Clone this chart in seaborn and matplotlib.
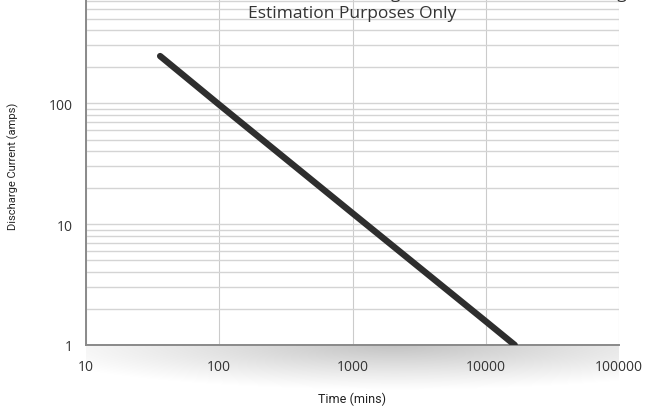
import numpy as np
import matplotlib
matplotlib.use("Agg")
import matplotlib.pyplot as plt
import seaborn as sns
from matplotlib.ticker import FixedLocator, NullFormatter, LogLocator

# ── Data ────────────────────────────────────────────────────
time_mins = [36, 100, 1000, 10000, 16500]
current_amps = [245, 97, 12.3, 1.57, 1.0]

x_ticks = [10, 100, 1000, 10000, 100000]
x_tick_labels = ['10', '100', '1000', '10000', '100000']
y_ticks = [1, 10, 100, 1000]
y_tick_labels = ['1', '10', '100', '1000']

title_top = "This Chart Is Intended to Show Discharge Rates and Times for Sizing"
title_bottom = "Estimation Purposes Only"

# ── Style ───────────────────────────────────────────────────
sns.set_style("white")
plt.rcParams['font.family'] = ['Open Sans', 'DejaVu Sans']
narrow = ['Roboto', 'DejaVu Sans']

W, H = 646, 410
fig = plt.figure(figsize=(W / 100, H / 100), dpi=100)
fig.patch.set_facecolor('white')

# axes geometry in pixels (axis extends above the figure top)
left_px, right_px = 86, 619
bottom_px = 346
top_px = 104 - 120.8  # y = 1000
ax = fig.add_axes([left_px / W, (H - bottom_px) / H,
                   (right_px - left_px) / W, (bottom_px - top_px) / H])

# soft shadow under the x axis
sax = fig.add_axes([left_px / W, (H - 400) / H, (right_px - left_px) / W, 54 / H], zorder=-1)
u = np.linspace(0, 1, 400)[None, :]
v = np.linspace(0, 1, 80)[:, None]
r = np.sqrt(((u - 0.58) / 0.72) ** 2 + (v / 0.85) ** 2)
alpha = np.clip(1 - r, 0, 1) ** 1.1 * 0.24
img = np.zeros((80, 400, 4))
img[..., 3] = alpha
sax.imshow(img, aspect='auto', extent=[0, 1, 0, 1], interpolation='bilinear')
sax.set_axis_off()

# ── Line ────────────────────────────────────────────────────
sns.lineplot(x=time_mins, y=current_amps, ax=ax, color='#2e2e2e',
             linewidth=4.6, solid_capstyle='round', zorder=3)

ax.set_xscale('log')
ax.set_yscale('log')
ax.set_xlim(10, 100000)
ax.set_ylim(1, 1000)

ax.xaxis.set_major_locator(FixedLocator(x_ticks))
ax.set_xticklabels(x_tick_labels)
ax.xaxis.set_minor_locator(FixedLocator([]))
ax.yaxis.set_major_locator(FixedLocator(y_ticks))
ax.set_yticklabels(y_tick_labels)
ax.yaxis.set_minor_locator(LogLocator(base=10, subs=np.arange(2, 10)))
ax.yaxis.set_minor_formatter(NullFormatter())

ax.yaxis.grid(True, which='both', color='#d4d4d4', linewidth=1.0)
ax.xaxis.grid(True, which='major', color='#cbcbcb', linewidth=0.8)
ax.set_axisbelow(True)

for side in ['top', 'right']:
    ax.spines[side].set_visible(False)
for side in ['left', 'bottom']:
    ax.spines[side].set_color('#8a8a8a')
    ax.spines[side].set_linewidth(1.4)

ax.tick_params(axis='both', which='major', direction='out', length=3,
               width=1, color='#8a8a8a', labelcolor='#333333', labelsize=10)
ax.tick_params(axis='y', which='major', pad=6.3)
ax.tick_params(axis='x', which='major', pad=7)
ax.tick_params(axis='y', which='minor', length=0)
ax.set_xlabel('')
ax.set_ylabel('')

# ── Labels & title ──────────────────────────────────────────
fig.text(352 / W, 1 - 399 / H, 'Time (mins)', ha='center', va='center',
         fontsize=9, color='#222222', family=narrow)
fig.text(13 / W, 1 - 166 / H, 'Discharge Current (amps)', ha='center', va='center',
         rotation=90, fontsize=8, color='#222222', family=narrow)

fig.text(352 / W, 1 - 18.5 / H, title_bottom, ha='center', va='baseline',
         fontsize=12.5, color='#333333')
fig.text(352 / W, 1 + 1.5 / H, title_top, ha='center', va='baseline',
         fontsize=12.5, color='#333333')

plt.savefig('out.png', dpi=100)
